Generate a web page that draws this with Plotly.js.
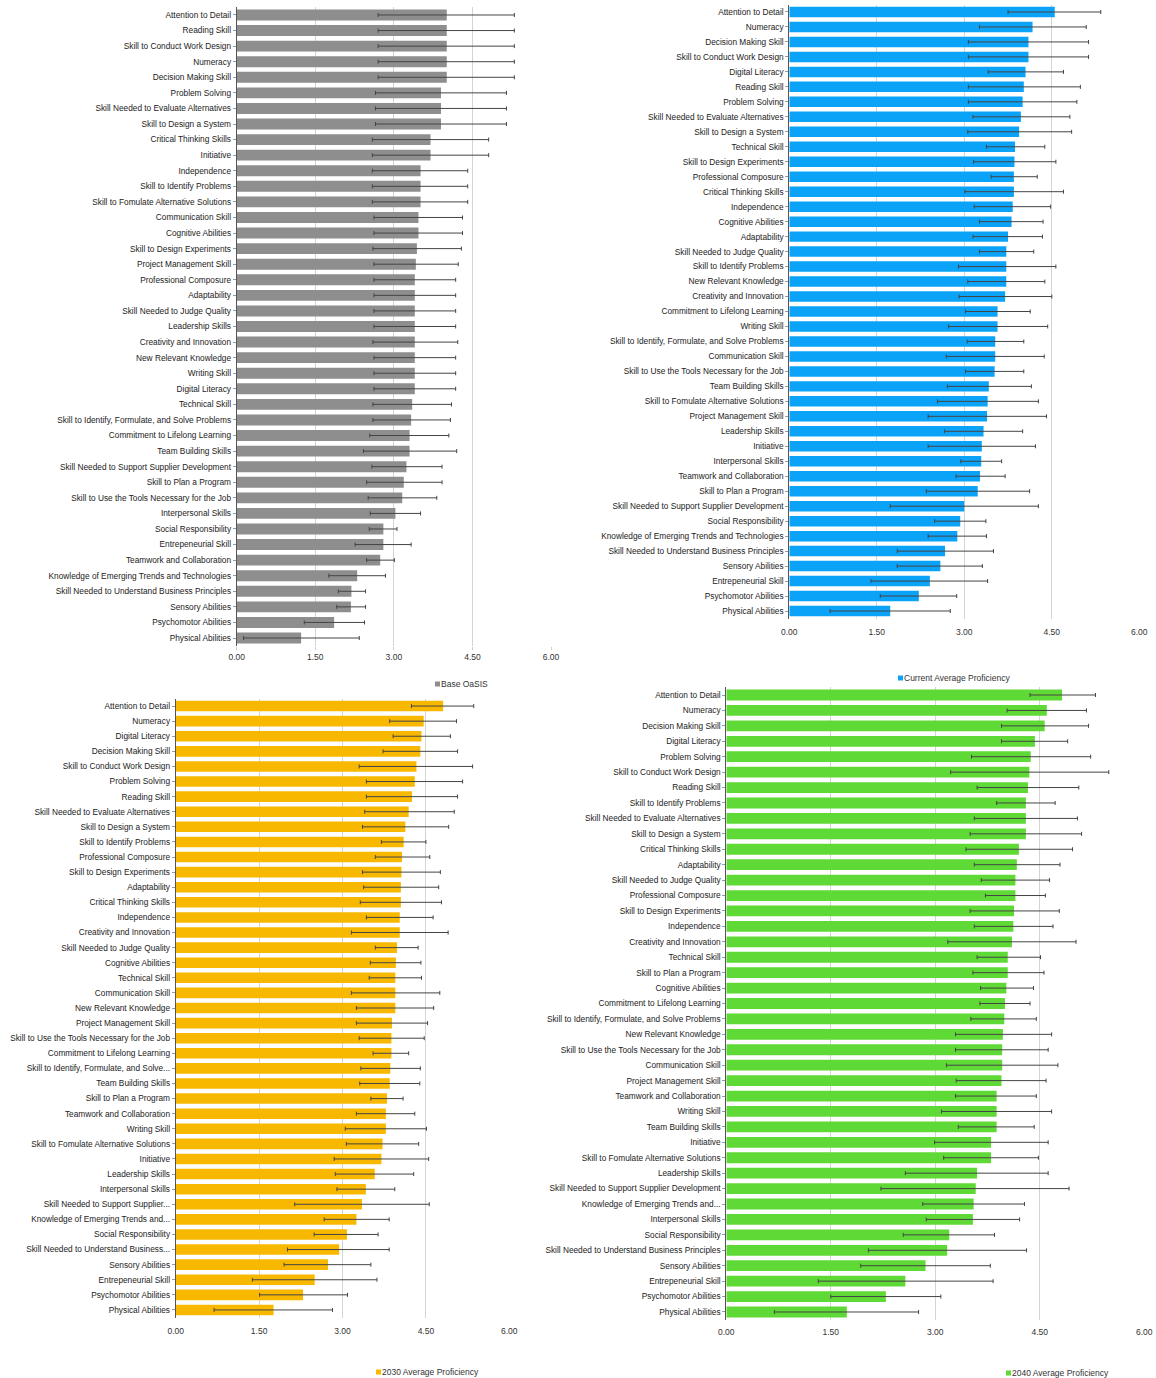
<!DOCTYPE html>
<html>
<head>
<meta charset="utf-8">
<script src="https://cdn.plot.ly/plotly-3.0.1.min.js"></script>
<style>
  html, body { margin: 0; padding: 0; background: #fff; overflow: hidden; }
  #chart { width: 1156px; height: 1378px; }
</style>
</head>
<body>
<div id="chart"></div>
<script>
// ---------- Panel 1: Base OaSIS ----------
const baseSkills = ["Attention to Detail","Reading Skill","Skill to Conduct Work Design","Numeracy","Decision Making Skill","Problem Solving","Skill Needed to Evaluate Alternatives","Skill to Design a System","Critical Thinking Skills","Initiative","Independence","Skill to Identify Problems","Skill to Fomulate Alternative Solutions","Communication Skill","Cognitive Abilities","Skill to Design Experiments","Project Management Skill","Professional Composure","Adaptability","Skill Needed to Judge Quality","Leadership Skills","Creativity and Innovation","New Relevant Knowledge","Writing Skill","Digital Literacy","Technical Skill","Skill to Identify, Formulate, and Solve Problems","Commitment to Lifelong Learning","Team Building Skills","Skill Needed to Support Supplier Development","Skill to Plan a Program","Skill to Use the Tools Necessary for the Job","Interpersonal Skills","Social Responsibility","Entrepeneurial Skill","Teamwork and Collaboration","Knowledge of Emerging Trends and Technologies","Skill Needed to Understand Business Principles","Sensory Abilities","Psychomotor Abilities","Physical Abilities"];
const baseValues = [4.01,4.01,4.01,4.01,4.01,3.90,3.90,3.90,3.70,3.70,3.51,3.51,3.51,3.47,3.47,3.44,3.42,3.40,3.40,3.40,3.40,3.40,3.40,3.40,3.40,3.35,3.33,3.30,3.30,3.24,3.19,3.16,3.03,2.80,2.80,2.74,2.30,2.19,2.18,1.86,1.23];
const baseLow = [2.70,2.70,2.70,2.70,2.70,2.65,2.65,2.65,2.59,2.59,2.59,2.59,2.59,2.62,2.62,2.60,2.62,2.62,2.62,2.62,2.62,2.60,2.62,2.62,2.62,2.60,2.60,2.54,2.42,2.58,2.48,2.51,2.55,2.53,2.26,2.48,1.76,1.94,1.91,1.29,0.13];
const baseHigh = [5.30,5.30,5.30,5.30,5.30,5.15,5.15,5.15,4.81,4.81,4.41,4.41,4.41,4.31,4.31,4.29,4.23,4.18,4.18,4.18,4.18,4.22,4.18,4.18,4.18,4.10,4.08,4.05,4.20,3.92,3.92,3.82,3.51,3.06,3.33,3.01,2.84,2.46,2.46,2.44,2.34];

// ---------- Panel 2: Current Average Proficiency ----------
const curSkills = ["Attention to Detail","Numeracy","Decision Making Skill","Skill to Conduct Work Design","Digital Literacy","Reading Skill","Problem Solving","Skill Needed to Evaluate Alternatives","Skill to Design a System","Technical Skill","Skill to Design Experiments","Professional Composure","Critical Thinking Skills","Independence","Cognitive Abilities","Adaptability","Skill Needed to Judge Quality","Skill to Identify Problems","New Relevant Knowledge","Creativity and Innovation","Commitment to Lifelong Learning","Writing Skill","Skill to Identify, Formulate, and Solve Problems","Communication Skill","Skill to Use the Tools Necessary for the Job","Team Building Skills","Skill to Fomulate Alternative Solutions","Project Management Skill","Leadership Skills","Initiative","Interpersonal Skills","Teamwork and Collaboration","Skill to Plan a Program","Skill Needed to Support Supplier Development","Social Responsibility","Knowledge of Emerging Trends and Technologies","Skill Needed to Understand Business Principles","Sensory Abilities","Entrepeneurial Skill","Psychomotor Abilities","Physical Abilities"];
const curValues = [4.55,4.17,4.10,4.10,4.05,4.02,4.00,3.97,3.94,3.87,3.86,3.85,3.85,3.83,3.81,3.75,3.72,3.72,3.72,3.70,3.57,3.57,3.53,3.53,3.52,3.42,3.40,3.39,3.33,3.30,3.29,3.27,3.23,3.00,2.93,2.88,2.67,2.59,2.41,2.22,1.73];
const curLow = [3.75,3.26,3.07,3.07,3.41,3.07,3.07,3.15,3.06,3.38,3.16,3.46,3.01,3.17,3.26,3.15,3.26,2.90,3.06,2.91,3.02,2.73,3.05,2.69,3.02,2.71,2.54,2.38,2.66,2.38,2.94,2.86,2.35,1.73,2.49,2.38,1.85,1.85,1.40,1.56,0.70];
const curHigh = [5.34,5.09,5.13,5.13,4.70,4.99,4.93,4.81,4.84,4.38,4.57,4.25,4.70,4.48,4.35,4.34,4.19,4.57,4.38,4.50,4.13,4.43,4.02,4.37,4.02,4.15,4.27,4.41,4.00,4.22,3.64,3.70,4.12,4.27,3.37,3.38,3.50,3.31,3.40,2.87,2.76];

// ---------- Panel 3: 2030 Average Proficiency ----------
const y2030Skills = ["Attention to Detail","Numeracy","Digital Literacy","Decision Making Skill","Skill to Conduct Work Design","Problem Solving","Reading Skill","Skill Needed to Evaluate Alternatives","Skill to Design a System","Skill to Identify Problems","Professional Composure","Skill to Design Experiments","Adaptability","Critical Thinking Skills","Independence","Creativity and Innovation","Skill Needed to Judge Quality","Cognitive Abilities","Technical Skill","Communication Skill","New Relevant Knowledge","Project Management Skill","Skill to Use the Tools Necessary for the Job","Commitment to Lifelong Learning","Skill to Identify, Formulate, and Solve...","Team Building Skills","Skill to Plan a Program","Teamwork and Collaboration","Writing Skill","Skill to Fomulate Alternative Solutions","Initiative","Leadership Skills","Interpersonal Skills","Skill Needed to Support Supplier...","Knowledge of Emerging Trends and...","Social Responsibility","Skill Needed to Understand Business...","Sensory Abilities","Entrepeneurial Skill","Psychomotor Abilities","Physical Abilities"];
const y2030Values = [4.81,4.46,4.42,4.40,4.33,4.30,4.25,4.19,4.13,4.10,4.07,4.06,4.05,4.05,4.03,4.03,3.98,3.96,3.95,3.95,3.95,3.89,3.88,3.88,3.86,3.85,3.80,3.78,3.78,3.72,3.70,3.58,3.42,3.35,3.25,3.08,2.94,2.74,2.50,2.29,1.76];
const y2030Low = [4.24,3.85,3.91,3.73,3.30,3.43,3.43,3.40,3.36,3.70,3.59,3.36,3.38,3.32,3.43,3.16,3.59,3.50,3.48,3.16,3.25,3.25,3.30,3.55,3.33,3.31,3.51,3.25,3.05,3.07,2.85,2.87,2.90,2.14,2.67,2.49,2.01,1.95,1.38,1.51,0.69];
const y2030High = [5.36,5.05,4.94,5.07,5.34,5.16,5.07,5.01,4.91,4.50,4.57,4.76,4.73,4.78,4.63,4.90,4.36,4.41,4.42,4.75,4.64,4.53,4.47,4.19,4.40,4.39,4.09,4.30,4.51,4.37,4.55,4.28,3.94,4.56,3.84,3.64,3.84,3.51,3.62,3.09,2.82];

// ---------- Panel 4: 2040 Average Proficiency ----------
const y2040Skills = ["Attention to Detail","Numeracy","Decision Making Skill","Digital Literacy","Problem Solving","Skill to Conduct Work Design","Reading Skill","Skill to Identify Problems","Skill Needed to Evaluate Alternatives","Skill to Design a System","Critical Thinking Skills","Adaptability","Skill Needed to Judge Quality","Professional Composure","Skill to Design Experiments","Independence","Creativity and Innovation","Technical Skill","Skill to Plan a Program","Cognitive Abilities","Commitment to Lifelong Learning","Skill to Identify, Formulate, and Solve Problems","New Relevant Knowledge","Skill to Use the Tools Necessary for the Job","Communication Skill","Project Management Skill","Teamwork and Collaboration","Writing Skill","Team Building Skills","Initiative","Skill to Fomulate Alternative Solutions","Leadership Skills","Skill Needed to Support Supplier Development","Knowledge of Emerging Trends and...","Interpersonal Skills","Social Responsibility","Skill Needed to Understand Business Principles","Sensory Abilities","Entrepeneurial Skill","Psychomotor Abilities","Physical Abilities"];
const y2040Values = [4.82,4.60,4.57,4.43,4.37,4.35,4.33,4.30,4.30,4.30,4.20,4.17,4.15,4.15,4.13,4.12,4.10,4.04,4.04,4.02,4.00,3.99,3.97,3.96,3.96,3.95,3.88,3.88,3.88,3.80,3.80,3.60,3.58,3.55,3.54,3.20,3.17,2.86,2.57,2.29,1.73];
const y2040Low = [4.36,4.03,3.95,3.95,3.52,3.22,3.60,3.88,3.56,3.50,3.44,3.56,3.66,3.72,3.50,3.56,3.18,3.60,3.54,3.65,3.64,3.51,3.29,3.29,3.16,3.30,3.29,3.09,3.33,2.99,3.12,2.57,2.22,2.82,2.87,2.54,2.04,1.93,1.32,1.50,0.69];
const y2040High = [5.30,5.17,5.20,4.90,5.23,5.49,5.06,4.72,5.04,5.10,4.97,4.79,4.64,4.58,4.78,4.69,5.02,4.51,4.56,4.41,4.36,4.45,4.67,4.62,4.76,4.59,4.45,4.67,4.42,4.62,4.48,4.62,4.92,4.28,4.21,3.85,4.31,3.79,3.83,3.08,2.76];

const xTickVals = [0, 1.5, 3, 4.5, 6];
const xTickText = ["0.00", "1.50", "3.00", "4.50", "6.00"];

const W = 1156, H = 1378;
const FONT = "Liberation Sans, Arial, sans-serif";

function makeTrace(name, skills, values, low, high, color, xa, ya, legendId) {
  return {
    type: "bar",
    orientation: "h",
    name: name,
    y: skills,
    x: values,
    xaxis: xa,
    yaxis: ya,
    legend: legendId,
    marker: { color: color, line: { width: 0 } },
    error_x: {
      type: "data",
      symmetric: false,
      array: values.map((v, i) => high[i] - v),
      arrayminus: values.map((v, i) => v - low[i]),
      color: "#444444",
      thickness: 1,
      width: 2
    },
    hovertemplate: "%{y}: %{x:.2f}<extra></extra>"
  };
}

const traces = [
  makeTrace("Base OaSIS", baseSkills, baseValues, baseLow, baseHigh, "#8e8e8e", "x", "y", "legend"),
  makeTrace("Current Average Proficiency", curSkills, curValues, curLow, curHigh, "#0ba3f7", "x2", "y2", "legend2"),
  makeTrace("2030 Average Proficiency", y2030Skills, y2030Values, y2030Low, y2030High, "#f8b800", "x3", "y3", "legend3"),
  makeTrace("2040 Average Proficiency", y2040Skills, y2040Values, y2040Low, y2040High, "#5fd936", "x4", "y4", "legend4")
];

// pixel boxes -> paper domains
function dx(l, r) { return [l / W, r / W]; }
function dy(t, b) { return [1 - b / H, 1 - t / H]; }

function xAxis(domain, anchor, tickColor, tickLen) {
  return {
    domain: domain, anchor: anchor, range: [0, 6], fixedrange: true,
    tickvals: xTickVals, ticktext: xTickText,
    showgrid: true, gridcolor: "#d4d4d4", gridwidth: 1,
    zeroline: false, showline: false,
    ticks: "outside", ticklen: tickLen, tickcolor: tickColor,
    tickfont: { family: FONT, size: 8.5, color: "#333333" },
    automargin: false
  };
}
function yAxis(domain, anchor, n) {
  return {
    domain: domain, anchor: anchor, type: "category",
    autorange: false, range: [n - 0.5, -0.5],
    showline: true, linecolor: "#555555", linewidth: 1,
    ticks: "outside", ticklen: 3, tickcolor: "#9a9a9a",
    showgrid: false, zeroline: false,
    tickfont: { family: FONT, size: 8.3, color: "#222222" },
    automargin: false
  };
}

function legendAt(xpx, ypx) {
  return {
    xref: "container", yref: "container",
    x: xpx / W, y: 1 - ypx / H, xanchor: "left", yanchor: "middle",
    orientation: "h", bgcolor: "rgba(0,0,0,0)",
    font: { family: FONT, size: 8.5, color: "#333333" },
    itemwidth: 30, itemclick: false, itemdoubleclick: false
  };
}

const layout = {
  width: W, height: H,
  margin: { l: 0, r: 0, t: 0, b: 0, autoexpand: false },
  paper_bgcolor: "#ffffff", plot_bgcolor: "#ffffff",
  bargap: 0.3,
  showlegend: true,
  font: { family: FONT, size: 8.5, color: "#333333" },
  xaxis:  xAxis(dx(236.7, 551.0), "y", "#cfcfcf", 3),
  yaxis:  yAxis(dy(7.2, 645.8), "x", baseSkills.length),
  xaxis2: xAxis(dx(789.3, 1139.3), "y2", "rgba(0,0,0,0)", 5),
  yaxis2: yAxis(dy(4.5, 618.5), "x2", curSkills.length),
  xaxis3: xAxis(dx(175.7, 509.3), "y3", "rgba(0,0,0,0)", 5),
  yaxis3: yAxis(dy(698.5, 1317.5), "x3", y2030Skills.length),
  xaxis4: xAxis(dx(726.3, 1144.3), "y4", "rgba(0,0,0,0)", 4),
  yaxis4: yAxis(dy(687.3, 1319.7), "x4", y2040Skills.length),
  legend:  legendAt(401, 684),
  legend2: legendAt(864, 678),
  legend3: legendAt(342, 1372),
  legend4: legendAt(972, 1373)
};

Plotly.newPlot("chart", traces, layout, { displayModeBar: false, staticPlot: true }).then(function (gd) {
  // small square swatch sitting right before the label, as in the original legend
  gd.querySelectorAll(".legendpoints path").forEach(function (p) {
    p.setAttribute("d", "M19,2.5H14V-2.5H19Z");
  });
});
</script>
</body>
</html>
